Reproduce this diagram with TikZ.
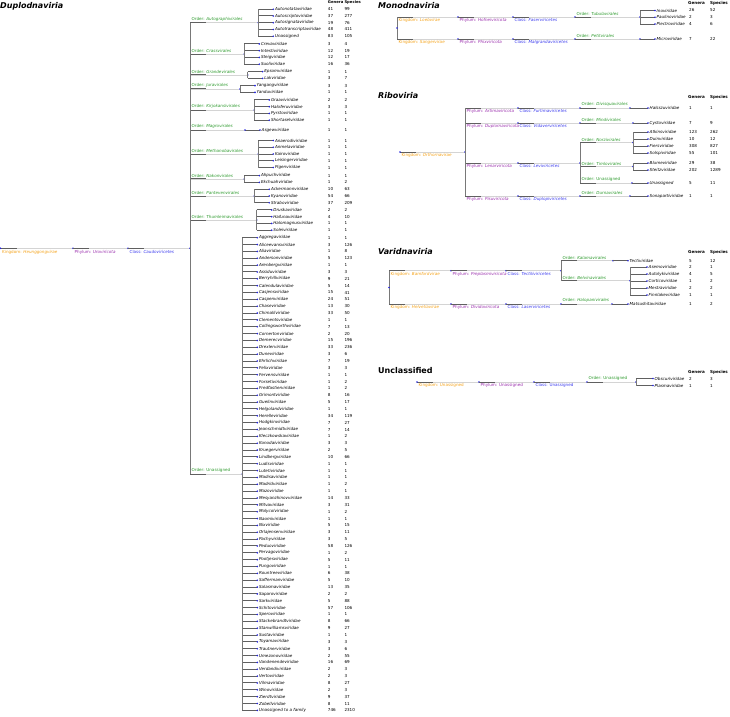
\documentclass[tikz,border=0pt]{standalone}
\usepackage{fontspec}
\setmainfont{DejaVu Sans}
\definecolor{kcol}{HTML}{F5A31A}
\definecolor{pcol}{HTML}{9B2FAE}
\definecolor{ccol}{HTML}{3B3BEF}
\definecolor{ocol}{HTML}{2E9B2E}
\definecolor{dotc}{HTML}{2525E0}
\definecolor{lgtc}{HTML}{D4D4D4}
\definecolor{drkc}{HTML}{606060}
\newcommand\fs{\fontsize{4.1}{5}\selectfont}
\tikzset{
  lgt/.style={draw=lgtc,line width=0.6pt},
  drk/.style={draw=drkc,line width=1.0pt},
  vln/.style={draw=drkc!85,line width=0.8pt},
  lab/.style={inner sep=0pt,font=\fs},
  klab/.style={lab,text=kcol,anchor=north west},
  plab/.style={lab,text=pcol,anchor=north west},
  clab/.style={lab,text=ccol,anchor=north west},
  olab/.style={lab,text=ocol,anchor=south west},
  famlab/.style={lab,anchor=west,font=\fs\itshape},
  num/.style={lab,anchor=west},
  hdr/.style={lab,anchor=west,font=\fs\bfseries},
  ttl/.style={inner sep=0pt,anchor=west,font=\fontsize{8}{10}\selectfont\bfseries\itshape},
}
% branch: id, x1, x2, y
\newcommand\tbr[4]{%
  \coordinate (#1s) at (#2,#4);
  \coordinate (#1) at (#3,#4);
  \draw[lgt] (#1s) -- (#1);
  \draw[drk] (#1s) -- ++(16,0);
  \fill[dotc] (#1) circle (0.9);}
\newcommand\tlbd[3]{\node[#2] (#1l) at ([xshift=1.5pt,yshift=-1.5pt]#1s) {#3};}
\newcommand\tlbu[3]{\node[#2] (#1l) at ([xshift=1.5pt,yshift=1.1pt]#1s) {#3};}
% family: id, x1, x2, y, name, genera, species
\newcommand\tfam[7]{%
  \coordinate (#1s) at (#2,#4);
  \coordinate (#1) at (#3,#4);
  \draw[drk] (#1s) -- (#1);
  \fill[dotc] (#1) circle (0.9);
  \node[famlab] (#1n) at ([xshift=1.5pt]#1) {#5};
  \node[num] (#1g) at (\xg,#4) {#6};
  \node[num] (#1p) at (\xs,#4) {#7};}
% left tree helpers
\newcount\rowc
\newcommand\tos[3]{% ystart, step, x of family vertical
  \def\ycur{#1}\def\ystep{#2}\def\xo{#3}%
  \pgfmathsetmacro\xf{#3+15}%
  \edef\ofirst{\the\rowc}\edef\yfirst{#1}}
\newcommand\tlf[3]{%
  \tfam{L\the\rowc}{\xo}{\xf}{\ycur}{#1}{#2}{#3}%
  \let\ylast\ycur
  \pgfmathsetmacro\ycur{\ycur+\ystep}%
  \global\advance\rowc by 1\relax}
\newcommand\toe[2]{%
  \edef\olast{\the\numexpr\rowc-1\relax}%
  \pgfmathsetmacro\ym{(\yfirst+\ylast)/2}%
  \tbr{#1}{190}{\xo}{\ym}
  \tlbu{#1}{olab}{#2}
  \draw[vln] (L\ofirst s) -- (L\olast s);}
\begin{document}
\begin{tikzpicture}[x=1pt,y=-1pt]
\useasboundingbox[fill=white] (0,0) rectangle (730,716);
% ================= Duplodnaviria =================
\node[ttl] (t1) at (0,6.5) {Duplodnaviria};
\def\xg{327.7}\def\xs{344.3}
\node[hdr,font=\fontsize{3.8}{5}\selectfont\bfseries] (h1g) at (\xg,2.4) {Genera};
\node[hdr,font=\fontsize{3.8}{5}\selectfont\bfseries] (h1s) at (\xs,2.4) {Species};
\rowc=0
\tos{9.2}{6.75}{258.3}
\tlf{Autonotataviridae}{41}{99}
\tlf{Autoscriptoviridae}{37}{277}
\tlf{Autosignataviridae}{19}{76}
\tlf{Autotranscriptaviridae}{48}{411}
\tlf{Unassigned}{83}{105}
\toe{o1}{Order: \textit{Autographivirales}}
\tos{43.9}{6.75}{244.3}
\tlf{Crevaviridae}{3}{4}
\tlf{Intestiviridae}{12}{19}
\tlf{Steigviridae}{12}{17}
\tlf{Suoliviridae}{16}{36}
\toe{o2}{Order: \textit{Crassvirales}}
\tos{71.6}{6.75}{247.7}
\tlf{Epsomviridae}{1}{1}
\tlf{Lakviridae}{3}{7}
\toe{o3}{Order: \textit{Grandevirales}}
\tos{85.6}{6.75}{240}
\tlf{Yangangviridae}{3}{3}
\tlf{Yanduviridae}{1}{1}
\toe{o4}{Order: \textit{Juravirales}}
\tos{99.9}{6.75}{254.3}
\tlf{Graaviviridae}{2}{2}
\tlf{Haloferuviridae}{3}{3}
\tlf{Pyrstoviridae}{1}{1}
\tlf{Shortaselviridae}{1}{1}
\toe{o5}{Order: \textit{Kirjokansivirales}}
\tos{130}{6.75}{245}
\tlf{Asgewviridae}{1}{1}
\toe{o6}{Order: \textit{Magrovirales}}
\tos{140.5}{6.75}{258.3}
\tlf{Anaerodiviridae}{1}{1}
\tlf{Anmelaviridae}{1}{1}
\tlf{Kairoviridae}{1}{1}
\tlf{Leisingerviridae}{1}{1}
\tlf{Pigenviridae}{1}{1}
\toe{o7}{Order: \textit{Methanobavirales}}
\tos{175.6}{6.75}{244.3}
\tlf{Ahpuchviridae}{1}{1}
\tlf{Ekchuahviridae}{1}{2}
\toe{o8}{Order: \textit{Nakonvirales}}
\tos{189.25}{6.75}{254.3}
\tlf{Ackermannviridae}{10}{63}
\tlf{Kyanoviridae}{54}{66}
\tlf{Straboviridae}{37}{209}
\toe{o9}{Order: \textit{Pantevenvirales}}
\tos{209.9}{6.75}{256.7}
\tlf{Druskaviridae}{2}{2}
\tlf{Hafunaviridae}{4}{10}
\tlf{Halomagnusviridae}{1}{1}
\tlf{Soleiviridae}{1}{1}
\toe{o10}{Order: \textit{Thumleimavirales}}
\tos{237.7}{6.85}{242.3}
\tlf{Aggregaviridae}{1}{1}
\tlf{Aliceevansviridae}{3}{126}
\tlf{Aliaviridae}{1}{8}
\tlf{Andersonviridae}{5}{123}
\tlf{Arenbergviridae}{1}{1}
\tlf{Assiduviridae}{3}{3}
\tlf{Berryhillviridae}{9}{21}
\tlf{Calendulaviridae}{5}{14}
\tlf{Casjensviridae}{15}{41}
\tlf{Caspenviridae}{24}{51}
\tlf{Chaseviridae}{13}{30}
\tlf{Chimalliviridae}{33}{50}
\tlf{Clementsviridae}{1}{1}
\tlf{Collingsworthviridae}{7}{13}
\tlf{Cornertonviridae}{2}{20}
\tlf{Demerecviridae}{15}{196}
\tlf{Drexlerviridae}{33}{236}
\tlf{Duneviridae}{3}{6}
\tlf{Ehrlichviridae}{7}{19}
\tlf{Felixviridae}{3}{3}
\tlf{Fervensviridae}{1}{1}
\tlf{Forsetiviridae}{1}{2}
\tlf{Fredfastierviridae}{1}{2}
\tlf{Grimontviridae}{8}{16}
\tlf{Guelinviridae}{5}{17}
\tlf{Helgolandviridae}{1}{1}
\tlf{Herelleviridae}{34}{119}
\tlf{Hodgkinviridae}{7}{27}
\tlf{Jeanschmidtviridae}{7}{14}
\tlf{Kleczkowskaviridae}{1}{2}
\tlf{Konodaiviridae}{3}{3}
\tlf{Kruegerviridae}{2}{5}
\tlf{Lindbergviridae}{10}{66}
\tlf{Ludisviridae}{1}{1}
\tlf{Lutetiviridae}{1}{1}
\tlf{Madisaviridae}{1}{1}
\tlf{Madridviridae}{1}{2}
\tlf{Mazoviridae}{1}{1}
\tlf{Mesyanzhinovviridae}{14}{33}
\tlf{Mitvaviridae}{3}{31}
\tlf{Molycolviridae}{1}{2}
\tlf{Naomiviridae}{1}{1}
\tlf{Nixviridae}{5}{15}
\tlf{Orlajensenviridae}{3}{11}
\tlf{Pachyviridae}{3}{5}
\tlf{Peduoviridae}{58}{126}
\tlf{Pervagoviridae}{1}{2}
\tlf{Pootjesviridae}{5}{11}
\tlf{Pungoviridae}{1}{1}
\tlf{Rountreeviridae}{6}{38}
\tlf{Saffermanviridae}{5}{10}
\tlf{Salasmaviridae}{13}{35}
\tlf{Saparoviridae}{2}{2}
\tlf{Sarkviridae}{5}{88}
\tlf{Schitoviridae}{57}{106}
\tlf{Speroviridae}{1}{1}
\tlf{Stackebrandtviridae}{8}{66}
\tlf{Stanwilliamsviridae}{9}{27}
\tlf{Sustaviridae}{1}{1}
\tlf{Toyamaviridae}{3}{3}
\tlf{Trautnerviridae}{3}{6}
\tlf{Umezonoviridae}{2}{55}
\tlf{Vandenendeviridae}{16}{69}
\tlf{Verdandiviridae}{2}{3}
\tlf{Vertoviridae}{2}{3}
\tlf{Vilmaviridae}{8}{27}
\tlf{Winoviridae}{2}{3}
\tlf{Zierdtviridae}{9}{37}
\tlf{Zobellviridae}{8}{11}
\tlf{Unassigned to a family}{746}{2310}
\toe{o11}{Order: Unassigned}
\tbr{dk}{0.5}{73}{248.3}\tlbd{dk}{klab}{Kingdom: \textit{Heunggongvirae}}
\tbr{dp}{73}{128}{248.3}\tlbd{dp}{plab}{Phylum: \textit{Uroviricota}}
\tbr{dc}{128}{190}{248.3}\tlbd{dc}{clab}{Class: \textit{Caudoviricetes}}
\fill[dotc] (dks) circle (0.9);
\draw[vln] (o1s) -- (o11s);
% ================= Monodnaviria =================
\node[ttl] (t2) at (378,6) {Monodnaviria};
\def\xg{689}\def\xs{710}
\node[hdr] (h2g) at (688,3) {Genera};
\node[hdr] (h2s) at (710,3) {Species};
\tbr{mk1}{397}{458}{17}\tlbd{mk1}{klab}{Kingdom: \textit{Loebvirae}}
\tbr{mp1}{458}{513}{17}\tlbd{mp1}{plab}{Phylum: \textit{Hofneiviricota}}
\tbr{mc1}{513}{575}{17}\tlbd{mc1}{clab}{Class: \textit{Faserviricetes}}
\tbr{mo1}{575}{640}{17}\tlbu{mo1}{olab}{Order: \textit{Tubulavirales}}
\tfam{mf1}{640}{655}{10.5}{Inoviridae}{26}{52}
\tfam{mf2}{640}{655}{17.2}{Paulinoviridae}{2}{3}
\tfam{mf3}{640}{655}{24}{Plectroviridae}{4}{6}
\draw[vln] (mf1s) -- (mf3s);
\tbr{mk2}{397}{458}{39}\tlbd{mk2}{klab}{Kingdom: \textit{Sangervirae}}
\tbr{mp2}{458}{513}{39}\tlbd{mp2}{plab}{Phylum: \textit{Phixviricota}}
\tbr{mc2}{513}{575}{39}\tlbd{mc2}{clab}{Class: \textit{Malgrandaviricetes}}
\tbr{mo2}{575}{640}{39}\tlbu{mo2}{olab}{Order: \textit{Petitvirales}}
\tfam{mf4}{640}{655}{39}{Microviridae}{7}{22}
\draw[vln] (mk1s) -- (mk2s);
\coordinate (mr) at (397,28);\fill[dotc] (mr) circle (0.9);
% ================= Riboviria =================
\node[ttl] (t3) at (378,95.5) {Riboviria};
\node[hdr] (h3g) at (688,97) {Genera};
\node[hdr] (h3s) at (710,97) {Species};
\tbr{rk}{400}{465}{152}\tlbd{rk}{klab}{Kingdom: \textit{Orthornavirae}}
\fill[dotc] (rks) circle (0.9);
\tbr{rp1}{465}{518}{108}\tlbd{rp1}{plab}{Phylum: \textit{Artimaviricota}}
\tbr{rc1}{518}{580}{108}\tlbd{rc1}{clab}{Class: \textit{Furtimaviricetes}}
\tbr{ro1}{580}{630}{108}\tlbu{ro1}{olab}{Order: \textit{Divisquavirales}}
\tfam{rf1}{630}{648}{108}{Halsszuviridae}{1}{1}
\tbr{rp2}{465}{518}{123}\tlbd{rp2}{plab}{Phylum: \textit{Duplornaviricota}}
\tbr{rc2}{518}{580}{123}\tlbd{rc2}{clab}{Class: \textit{Vidaverviricetes}}
\tbr{ro2}{580}{633}{123}\tlbu{ro2}{olab}{Order: \textit{Mindivirales}}
\tfam{rf2}{633}{648}{123}{Cystoviridae}{7}{9}
\tbr{rp3}{465}{518}{163}\tlbd{rp3}{plab}{Phylum: \textit{Lenarviricota}}
\tbr{rc3}{518}{580}{163}\tlbd{rc3}{clab}{Class: \textit{Leviviricetes}}
\tbr{ro3}{580}{633}{142.5}\tlbu{ro3}{olab}{Order: \textit{Norzivirales}}
\tfam{rf3}{633}{648}{132}{Atkinsviridae}{123}{262}
\tfam{rf4}{633}{648}{139}{Duinviridae}{10}{12}
\tfam{rf5}{633}{648}{146}{Fiersviridae}{308}{827}
\tfam{rf6}{633}{648}{153}{Solspiviridae}{55}{101}
\draw[vln] (rf3s) -- (rf6s);
\tbr{ro4}{580}{633}{166.5}\tlbu{ro4}{olab}{Order: \textit{Timlovirales}}
\tfam{rf7}{633}{648}{163}{Blumeviridae}{29}{38}
\tfam{rf8}{633}{648}{170}{Steitzviridae}{202}{1289}
\draw[vln] (rf7s) -- (rf8s);
\tbr{ro5}{580}{632}{183}\tlbu{ro5}{olab}{Order: Unassigned}
\tfam{rf9}{632}{648}{183}{Unassigned}{5}{11}
\draw[vln] (ro3s) -- (ro5s);
\tbr{rp4}{465}{518}{196}\tlbd{rp4}{plab}{Phylum: \textit{Pisuviricota}}
\tbr{rc4}{518}{580}{196}\tlbd{rc4}{clab}{Class: \textit{Duplopiviricetes}}
\tbr{ro6}{580}{630}{196}\tlbu{ro6}{olab}{Order: \textit{Durnavirales}}
\tfam{rf10}{630}{648}{196}{Sonapartiviridae}{1}{1}
\draw[vln] (rp1s) -- (rp4s);
% ================= Varidnaviria =================
\node[ttl] (t4) at (378,251.5) {Varidnaviria};
\node[hdr] (h4g) at (688,252) {Genera};
\node[hdr] (h4s) at (710,252) {Species};
\tbr{vk1}{389}{451}{270.7}\tlbd{vk1}{klab}{Kingdom: \textit{Bamfordvirae}}
\tbr{vp1}{451}{506}{270.7}\tlbd{vp1}{plab}{Phylum: \textit{Preplasmiviricota}}
\tbr{vc1}{506}{561}{270.7}\tlbd{vc1}{clab}{Class: \textit{Tectiliviricetes}}
\tbr{vo1}{561}{613}{260.7}\tlbu{vo1}{olab}{Order: \textit{Kalamavirales}}
\tfam{vf1}{613}{628}{260.7}{Tectiviridae}{5}{12}
\tbr{vo2}{561}{630}{280.7}\tlbu{vo2}{olab}{Order: \textit{Belvinavirales}}
\tfam{vf2}{630}{647}{267}{Asemoviridae}{2}{1}
\tfam{vf3}{630}{647}{274}{Autolykiviridae}{4}{5}
\tfam{vf4}{630}{647}{281}{Corticoviridae}{1}{2}
\tfam{vf5}{630}{647}{288}{Mestraviridae}{2}{2}
\tfam{vf6}{630}{647}{295}{Finnlakeviridae}{1}{1}
\draw[vln] (vf2s) -- (vf6s);
\draw[vln] (vo1s) -- (vo2s);
\tbr{vk2}{389}{451}{304}\tlbd{vk2}{klab}{Kingdom: \textit{Helvetiavirae}}
\tbr{vp2}{451}{506}{304}\tlbd{vp2}{plab}{Phylum: \textit{Dividoviricota}}
\tbr{vc2}{506}{561}{304}\tlbd{vc2}{clab}{Class: \textit{Laserviricetes}}
\tbr{vo3}{561}{612}{304}\tlbu{vo3}{olab}{Order: \textit{Halopanivirales}}
\tfam{vf7}{612}{628}{304}{Matsushitaviridae}{1}{2}
\draw[vln] (vk1s) -- (vk2s);
\coordinate (vr) at (389,287.4);\fill[dotc] (vr) circle (0.9);
% ================= Unclassified =================
\node[ttl,font=\fontsize{8}{10}\selectfont\bfseries] (t5) at (378,370.5) {Unclassified};
\node[hdr] (h5g) at (688,372) {Genera};
\node[hdr] (h5s) at (710,372) {Species};
\tbr{uk}{417}{479}{382}\tlbd{uk}{klab}{Kingdom: Unassigned}
\fill[dotc] (uks) circle (0.9);
\tbr{up}{479}{534}{382}\tlbd{up}{plab}{Phylum: Unassigned}
\tbr{uc}{534}{587}{382}\tlbd{uc}{clab}{Class: Unassigned}
\tbr{uo}{587}{636}{382}\tlbu{uo}{olab}{Order: Unassigned}
\tfam{uf1}{636}{653}{378.5}{Obscuriviridae}{2}{3}
\tfam{uf2}{636}{653}{385.5}{Plasmaviridae}{1}{1}
\draw[vln] (uf1s) -- (uf2s);
\end{tikzpicture}
\end{document}
